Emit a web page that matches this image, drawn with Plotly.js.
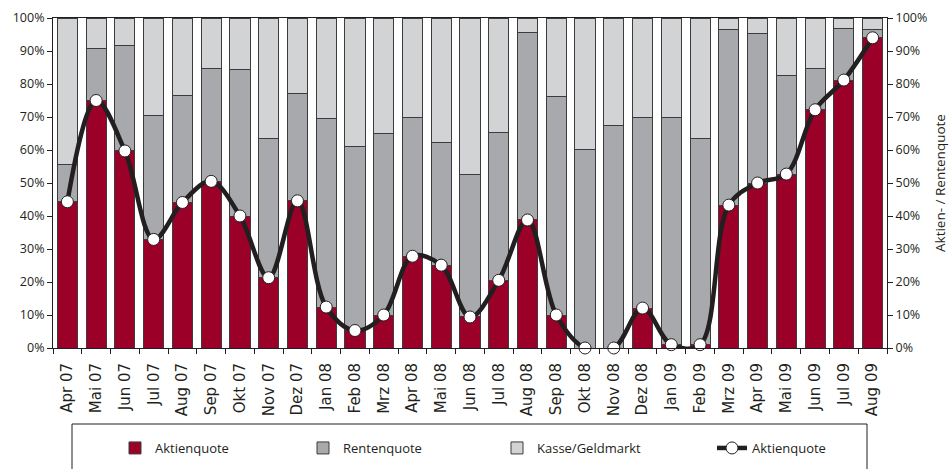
<!DOCTYPE html>
<html>
<head>
<meta charset="utf-8">
<script src="https://cdn.plot.ly/plotly-3.0.1.min.js"></script>
<style>html,body{margin:0;padding:0;background:#fff;}#chart{width:949px;height:469px;}</style>
</head>
<body>
<div id="chart"></div>
<script>
const months = ["Apr 07","Mai 07","Jun 07","Jul 07","Aug 07","Sep 07","Okt 07","Nov 07","Dez 07","Jan 08","Feb 08","Mrz 08","Apr 08","Mai 08","Jun 08","Jul 08","Aug 08","Sep 08","Okt 08","Nov 08","Dez 08","Jan 09","Feb 09","Mrz 09","Apr 09","Mai 09","Jun 09","Jul 09","Aug 09"];
const aktienquote = [44.3,75,59.7,32.9,44.1,50.5,40,21.3,44.6,12.4,5.3,10,27.8,25.1,9.4,20.5,38.8,10,0,0,12.1,1,1,43.3,50,52.7,72.2,81.2,94];
const rentenquote = [11.2,15.7,32.0,37.6,32.4,34.3,44.4,42.2,32.6,57.1,55.8,54.9,42.1,37.2,43.3,44.9,56.7,66.1,60.3,67.5,57.6,68.7,62.6,53.2,45.3,29.8,12.4,15.7,2.6];
const kasse = [44.5,9.3,8.3,29.5,23.5,15.2,15.6,36.5,22.8,30.5,38.9,35.1,30.1,37.7,47.3,34.6,4.5,23.9,39.7,32.5,30.3,30.3,36.4,3.5,4.7,17.5,15.4,3.1,3.4];
const yTicks = [0,10,20,30,40,50,60,70,80,90,100];
const yTickText = ["0%","10%","20%","30%","40%","50%","60%","70%","80%","90%","100%"];

const FONT = "Open Sans, Noto Sans, sans-serif";
const DARK = "#231f20";
const barLine = {color:"#3c3c3c", width:1};

const traces = [
  {type:"bar", name:"Aktienquote", x:months, y:aktienquote, marker:{color:"#9b0029", line:barLine}, legend:"legend", hoverinfo:"skip"},
  {type:"bar", name:"Rentenquote", x:months, y:rentenquote, marker:{color:"#a7a9ac", line:barLine}, legend:"legend2", hoverinfo:"skip"},
  {type:"bar", name:"Kasse/Geldmarkt", x:months, y:kasse, marker:{color:"#d1d3d4", line:barLine}, legend:"legend3", hoverinfo:"skip"},
  {type:"scatter", mode:"lines+markers", name:"Aktienquote", x:months, y:aktienquote, yaxis:"y2",
   line:{color:DARK, width:4.5, shape:"spline", smoothing:1},
   marker:{symbol:"circle", size:12, color:"#ffffff", line:{color:DARK, width:1}},
   cliponaxis:false, legend:"legend4", hoverinfo:"skip"}
];

function px2x(p){ return (p-53)/834; }
function py2y(p){ return (348-p)/330; }
const legY = py2y(448);
function leg(xpx){
  return {x:px2x(xpx), y:legY, xanchor:"left", yanchor:"middle", orientation:"h",
          bgcolor:"rgba(0,0,0,0)", borderwidth:0, font:{family:FONT, size:13, color:DARK}, itemwidth:30};
}

const layout = {
  width:949, height:469,
  margin:{l:53, r:62, t:18, b:121, autoexpand:false},
  paper_bgcolor:"#ffffff", plot_bgcolor:"#ffffff",
  barmode:"stack", bargap:0.3,
  font:{family:FONT, size:12, color:DARK},
  xaxis:{type:"category", range:[-0.5, months.length-0.5], tickson:"boundaries", ticks:"outside", ticklen:5, tickcolor:DARK, tickwidth:1,
         tickangle:-90, ticklabelstandoff:8, tickfont:{family:"DejaVu Sans, sans-serif", size:15, color:DARK},
         showline:true, linecolor:DARK, linewidth:1, mirror:true, showgrid:false, zeroline:false, automargin:false},
  yaxis:{range:[0,100], tickvals:yTicks, ticktext:yTickText, ticks:"outside", ticklen:5, tickcolor:DARK,
         showline:true, linecolor:DARK, linewidth:1, showgrid:false, zeroline:false, automargin:false,
         tickfont:{family:FONT, size:12.5, color:DARK}},
  yaxis2:{range:[0,100], overlaying:"y", side:"right", tickvals:yTicks, ticktext:yTickText, ticks:"outside", ticklen:5,
          tickcolor:DARK, showline:true, linecolor:DARK, linewidth:1, showgrid:false, zeroline:false, automargin:false,
          tickfont:{family:FONT, size:12.5, color:DARK},
          title:{text:"Aktien- / Rentenquote", font:{family:FONT, size:13.5, color:DARK}, standoff:10}},
  legend: leg(115),
  legend2: leg(303),
  legend3: leg(497),
  legend4: leg(712),
  showlegend:true,
  shapes:[{type:"rect", xref:"paper", yref:"paper", x0:px2x(72), x1:px2x(867), y0:py2y(424), y1:py2y(480),
           line:{color:DARK, width:1}, fillcolor:"rgba(0,0,0,0)"}]
};

Plotly.newPlot("chart", traces, layout, {displayModeBar:false, staticPlot:true});
</script>
</body>
</html>
